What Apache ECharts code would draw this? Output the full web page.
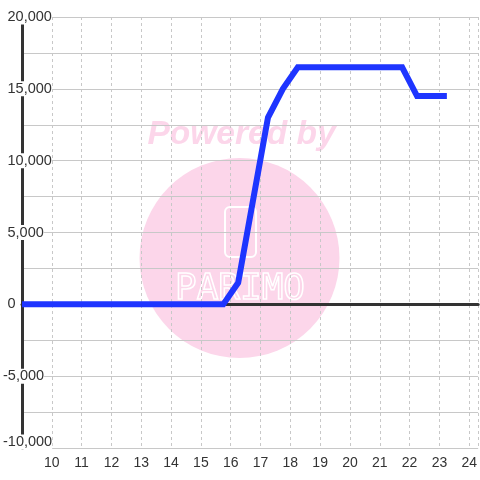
<!DOCTYPE html>
<html>
<head>
<meta charset="utf-8">
<script src="https://cdn.jsdelivr.net/npm/echarts@6/dist/echarts.min.js"></script>
<style>
html,body{margin:0;padding:0;background:#ffffff;}
#chart{width:480px;height:480px;}
</style>
</head>
<body>
<div id="chart"></div>
<script>
const xValues = [9, 15.75, 16.25, 17.25, 17.75, 18.25, 21.75, 22.25, 23.25];
const yValues = [0, 0, 1500, 13000, 15000, 16500, 16500, 14500, 14500];
const xMin = 9, xMax = 24.3;
const yMin = -10000, yMax = 20000;

const chart = echarts.init(document.getElementById('chart'));
const data = xValues.map((x, i) => [x, yValues[i]]);
const labFont = { fontSize: 14.5, color: '#333', backgroundColor: '#ffffff', lineHeight: 15, fontFamily: 'Liberation Sans, Arial, sans-serif' };

chart.setOption({
  animation: false,
  backgroundColor: '#ffffff',
  textStyle: { fontFamily: 'Liberation Sans, Arial, sans-serif' },
  grid: { left: 21, right: 0, top: 17, bottom: 32, containLabel: false },
  graphic: [
    { type: 'circle', z: -10, shape: { cx: 239.5, cy: 258, r: 100 }, style: { fill: '#fcd6ea' } },
    { type: 'text', z: -10, x: 241.5, y: 135, style: { text: 'Powered by', font: 'italic bold 33.5px Liberation Sans, Arial, sans-serif', fill: '#fcd6ea', align: 'center', verticalAlign: 'middle' } },
    { type: 'rect', z: -9, shape: { x: 225, y: 207, width: 31, height: 50, r: 5 }, style: { fill: 'none', stroke: '#ffffff', lineWidth: 2 } },
    { type: 'text', z: -9, x: 240, y: 290, style: { text: 'PARIMO', font: '36px DejaVu Sans Mono, monospace', fill: 'none', stroke: '#ffffff', lineWidth: 1.5, align: 'center', verticalAlign: 'middle' } }
  ],
  xAxis: [
    {
      type: 'value', min: xMin, max: xMax, interval: 1,
      axisLine: { show: false, onZero: false },
      axisTick: { show: false },
      axisLabel: {
        fontSize: 14, color: '#333', margin: 8,
        showMinLabel: false, showMaxLabel: false,
        formatter: v => (Number.isInteger(v) && v >= 10) ? String(v) : ''
      },
      splitLine: { show: true, lineStyle: { color: '#c8c8c8', type: [3, 3], width: 1 } }
    },
    {
      type: 'value', min: xMin, max: xMax, position: 'top',
      axisLine: { show: true, onZero: true, lineStyle: { color: '#333', width: 3 } },
      axisTick: { show: false },
      axisLabel: { show: false },
      splitLine: { show: false }
    }
  ],
  yAxis: {
    type: 'value', min: yMin, max: yMax, interval: 2500,
    axisLine: { show: true, onZero: false, lineStyle: { color: '#333', width: 3 } },
    axisTick: { show: false },
    axisLabel: {
      align: 'left', margin: 19,
      formatter: v => {
        if (v % 5000 !== 0) return '';
        const s = v.toLocaleString('en-US');
        const t = v < 0 ? '{n|' + s + '}' : '{p|' + s + '}';
        return v === yMin ? t + '\n{e|}' : t;
      },
      rich: {
        n: Object.assign({}, labFont),
        p: Object.assign({ padding: [0, 0, 0, 4.5] }, labFont),
        e: { height: 12, lineHeight: 12 }
      }
    },
    splitLine: { show: true, lineStyle: { color: '#c8c8c8', width: 1 } }
  },
  series: [{
    type: 'line',
    data: data,
    xAxisIndex: 0,
    showSymbol: false,
    symbol: 'none',
    z: 5,
    lineStyle: { color: '#1e35ff', width: 6, cap: 'butt', join: 'miter' }
  }]
});
</script>
</body>
</html>
